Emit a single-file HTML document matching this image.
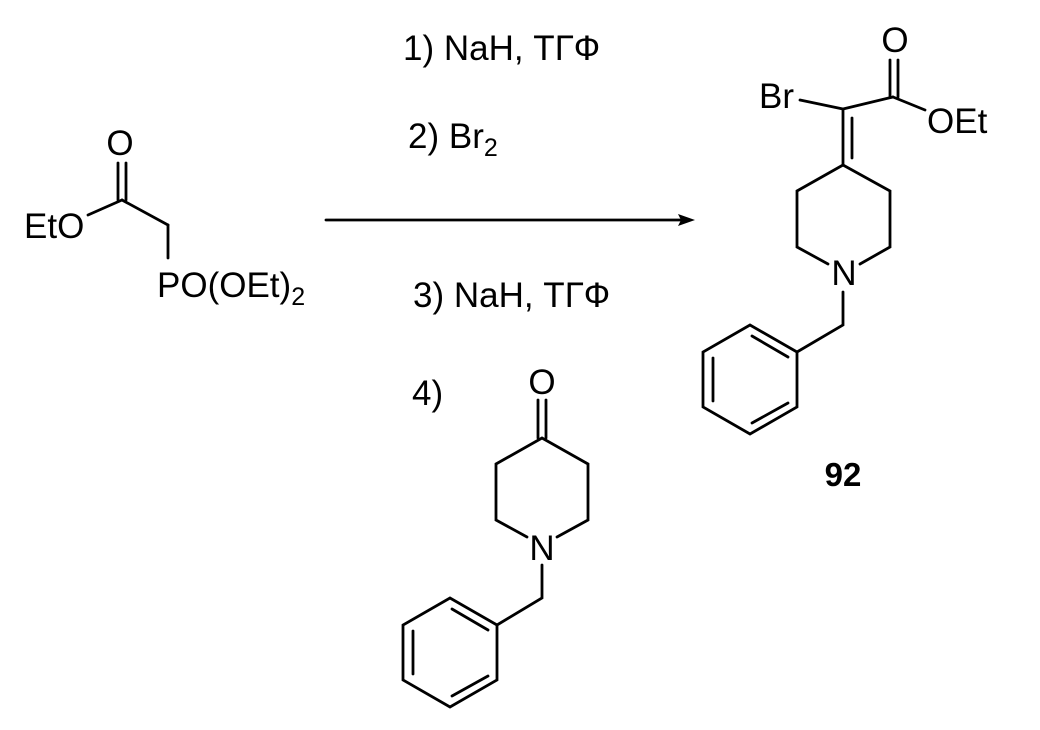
<!DOCTYPE html>
<html><head><style>body{margin:0;background:#fff}svg{display:block}</style></head>
<body>
<svg width="1040" height="730" viewBox="0 0 1040 730" xmlns="http://www.w3.org/2000/svg" font-family="Liberation Sans, Arial, sans-serif" fill="#000">
<g stroke="#000" stroke-width="2.8" fill="none" stroke-linecap="round">
<line x1="118" y1="163" x2="118" y2="200"/><line x1="126" y1="163" x2="126" y2="200"/>
<line x1="88" y1="215" x2="122" y2="200"/><line x1="122" y1="200" x2="168" y2="225"/>
<line x1="168" y1="225" x2="168" y2="258"/>
<line x1="326" y1="220" x2="680" y2="220"/>
<line x1="890" y1="60" x2="890" y2="97"/><line x1="898" y1="60" x2="898" y2="97"/>
<line x1="893" y1="97" x2="925" y2="110"/><line x1="843" y1="109" x2="893" y2="97"/>
<line x1="800" y1="100" x2="843" y2="109"/>
<line x1="843" y1="109" x2="843" y2="165"/><line x1="852" y1="118" x2="852" y2="158"/>
<polyline points="828,264 797,247 797,191 843,165 890,191 890,247 860,264"/>
<polyline points="843,292 843,325 797,352"/>
<polygon points="797,352 750,325 703,352 703,407 750,434 797,407"/>
<line x1="752" y1="336" x2="788" y2="357"/><line x1="713" y1="358" x2="713" y2="401"/><line x1="752" y1="423" x2="788" y2="403"/>
<line x1="538" y1="400" x2="538" y2="438"/><line x1="546" y1="400" x2="546" y2="438"/>
<polyline points="527,537 496,520 496,464 542,438 588,464 588,520 557,537"/>
<polyline points="542,565 542,598 497,625"/>
<polygon points="497,625 450,598 403,625 403,680 450,707 497,680"/>
<line x1="452" y1="609" x2="488" y2="630"/><line x1="413" y1="631" x2="413" y2="674"/><line x1="452" y1="696" x2="488" y2="676"/>
</g>
<polygon points="695,220 678,214 681,220 678,226" fill="#000"/>
<g font-size="35">
<text x="120" y="155" text-anchor="middle">O</text>
<text x="24" y="238">EtO</text>
<text x="157" y="297">PO(OEt)<tspan font-size="25" dy="8">2</tspan></text>
<text x="403" y="60">1) NaH, ТГФ</text>
<text x="408" y="148">2) Br<tspan font-size="25" dy="8">2</tspan></text>
<text x="413" y="307">3) NaH, ТГФ</text>
<text x="895" y="52" text-anchor="middle">O</text>
<text x="759" y="108">Br</text>
<text x="927" y="133">OEt</text>
<text x="844" y="285" text-anchor="middle">N</text>
<text x="412" y="405">4)</text>
<text x="542" y="394" text-anchor="middle">O</text>
<text x="542" y="560" text-anchor="middle">N</text>
<text x="843" y="486" text-anchor="middle" font-weight="bold" font-size="33">92</text>
</g>
</svg>
</body></html>
